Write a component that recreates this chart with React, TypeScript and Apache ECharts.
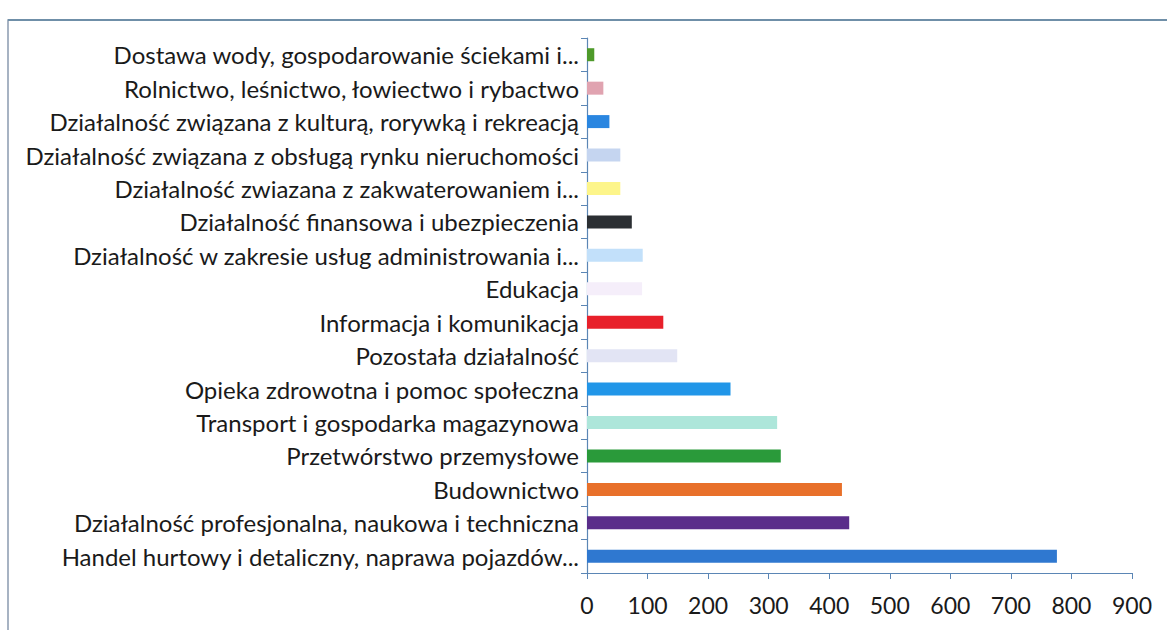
import React, { useEffect, useRef } from "react";
import * as echarts from "echarts";

// bottom → top order
const categories = [
  "Handel hurtowy i detaliczny, naprawa pojazdów...",
  "Działalność profesjonalna, naukowa i techniczna",
  "Budownictwo",
  "Przetwórstwo przemysłowe",
  "Transport i gospodarka magazynowa",
  "Opieka zdrowotna i pomoc społeczna",
  "Pozostała działalność",
  "Informacja i komunikacja",
  "Edukacja",
  "Działalność w zakresie usług administrowania i...",
  "Działalność finansowa i ubezpieczenia",
  "Działalność zwiazana z zakwaterowaniem i...",
  "Działalność związana z obsługą rynku nieruchomości",
  "Działalność związana z kulturą, rorywką i rekreacją",
  "Rolnictwo, leśnictwo, łowiectwo i rybactwo",
  "Dostawa wody, gospodarowanie ściekami i...",
];

const values = [776, 433, 421, 320, 314, 237, 149, 126, 91, 92, 74, 55, 55, 37, 27, 12];

const colors = [
  "#2f78d0",
  "#5a2d8a",
  "#e8702a",
  "#2a9a3a",
  "#ade6da",
  "#2196e8",
  "#e2e4f4",
  "#e8202a",
  "#f5eefa",
  "#c2e0fa",
  "#2b2f33",
  "#fdf58a",
  "#c5d5f0",
  "#2a86e0",
  "#e0a3b0",
  "#4e9a2a",
];

const xTicks = { min: 0, max: 900, interval: 100 };

export default function App() {
  const ref = useRef<HTMLDivElement>(null);
  useEffect(() => {
    if (!ref.current) return;
    const chart = echarts.init(ref.current, undefined, { renderer: "svg" });
    const axisColor = "#5b86b5";
    chart.setOption({
      animation: false,
      backgroundColor: "#ffffff",
      textStyle: { fontFamily: "Lato" },
      graphic: [
        {
          type: "rect",
          shape: { x: 8, y: 20, width: 1170, height: 620 },
          style: { fill: "none", stroke: "#8a9bb0", lineWidth: 1.5 },
          silent: true,
          z: -1,
        },
        {
          type: "line",
          shape: { x1: 8, y1: 20, x2: 1167, y2: 20 },
          style: { stroke: "#6f8fa8", lineWidth: 2 },
          silent: true,
        },
      ],
      grid: { left: 587, right: 35, top: 38, bottom: 57, containLabel: false },
      xAxis: {
        type: "value",
        min: xTicks.min,
        max: xTicks.max,
        interval: xTicks.interval,
        axisLine: { show: true, lineStyle: { color: axisColor, width: 1.2 } },
        axisTick: { show: true, length: 6, lineStyle: { color: axisColor } },
        splitLine: { show: false },
        axisLabel: { fontSize: 23, color: "#1a1a1a", margin: 20, fontFamily: "Lato" },
      },
      yAxis: {
        type: "category",
        data: categories,
        axisLine: { show: true, lineStyle: { color: axisColor, width: 1.2 } },
        axisTick: { show: true, length: 6, alignWithLabel: false, lineStyle: { color: axisColor } },
        axisLabel: { fontSize: 24, color: "#1a1a1a", margin: 8, fontFamily: "Lato" },
      },
      series: [
        {
          type: "bar",
          barWidth: 13,
          data: values.map((v, i) => ({ value: v, itemStyle: { color: colors[i] } })),
        },
      ],
    });
    return () => chart.dispose();
  }, []);
  return (
    <div
      ref={ref}
      style={{ position: "absolute", left: 0, top: 0, width: 1167, height: 630 }}
    />
  );
}
